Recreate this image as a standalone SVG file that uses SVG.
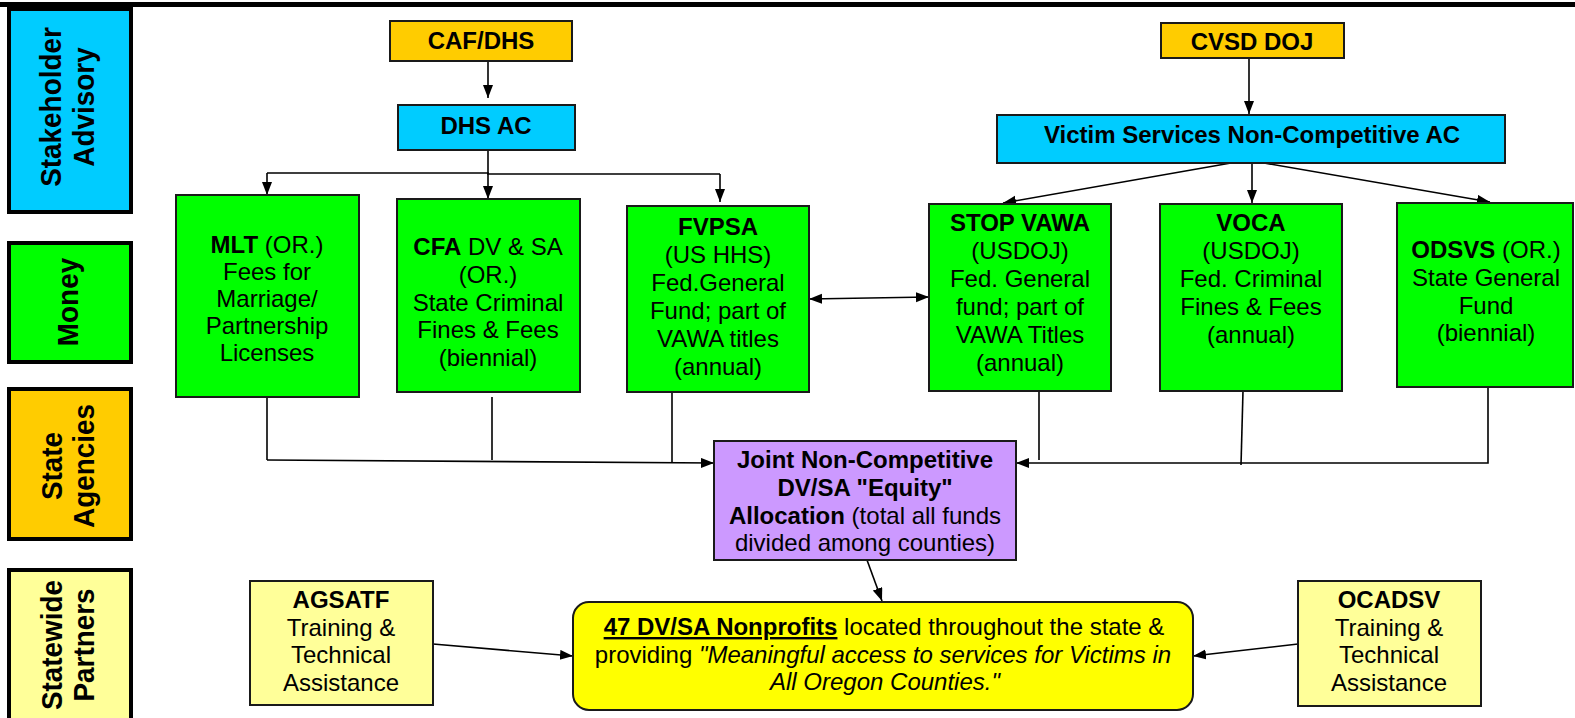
<svg xmlns="http://www.w3.org/2000/svg" width="1575" height="718" viewBox="0 0 1575 718">
<style>
text{font-family:"Liberation Sans",Arial,sans-serif;font-size:24px;fill:#000;text-anchor:middle}
.b{font-weight:bold}
.lane{stroke:#000;stroke-width:4}
.lbl{font-size:30px;font-weight:bold}
.node{stroke:#1a1a1a;stroke-width:2}
.c{fill:none;stroke:#000;stroke-width:1.6}
.a{marker-end:url(#ah)}
</style>
<defs>
<marker id="ah" markerUnits="userSpaceOnUse" markerWidth="14" markerHeight="12" refX="13" refY="5" orient="auto-start-reverse"><path d="M0,0 L13,5 L0,10 z" fill="#000"/></marker>
</defs>
<rect x="0" y="2" width="1575" height="5" fill="#000"/>

<g id="lane-stakeholder">
<rect class="lane" x="9" y="9" width="122" height="203" fill="#00CCFF"/>
<text class="lbl" transform="translate(61,107) rotate(-90) scale(0.93,1)">Stakeholder</text>
<text class="lbl" transform="translate(94,107) rotate(-90) scale(0.93,1)">Advisory</text>
</g>
<g id="lane-money">
<rect class="lane" x="9" y="243" width="122" height="119" fill="#00FF00"/>
<text class="lbl" transform="translate(78,302) rotate(-90) scale(0.93,1)">Money</text>
</g>
<g id="lane-state">
<rect class="lane" x="9" y="389" width="122" height="150" fill="#FFCC00"/>
<text class="lbl" transform="translate(62,466) rotate(-90) scale(0.93,1)">State</text>
<text class="lbl" transform="translate(94,466) rotate(-90) scale(0.93,1)">Agencies</text>
</g>
<g id="lane-partners">
<rect class="lane" x="9" y="570" width="122" height="155" fill="#FFFF99"/>
<text class="lbl" transform="translate(62,645) rotate(-90) scale(0.93,1)">Statewide</text>
<text class="lbl" transform="translate(94,645) rotate(-90) scale(0.93,1)">Partners</text>
</g>

<g id="connectors">
<line class="c a" x1="488" y1="61" x2="488" y2="98"/>
<line class="c" x1="488" y1="150" x2="488" y2="174" stroke-width="3"/>
<polyline class="c" points="267,173 488,173 488,174 720,174"/>
<line class="c a" x1="267" y1="173" x2="267" y2="195"/>
<line class="c a" x1="488" y1="174" x2="488" y2="199"/>
<line class="c a" x1="720" y1="174" x2="720" y2="202"/>
<line class="c a" x1="1249" y1="58" x2="1249" y2="114"/>
<line class="c a" x1="1231" y1="163" x2="1003" y2="203"/>
<line class="c a" x1="1252" y1="163" x2="1252" y2="203"/>
<line class="c a" x1="1264" y1="163" x2="1490" y2="202"/>
<line class="c a" x1="809" y1="299" x2="929" y2="297" marker-start="url(#ah)"/>
<line class="c" x1="267" y1="397" x2="267" y2="460"/>
<line class="c" x1="492" y1="397" x2="492" y2="460"/>
<line class="c" x1="672" y1="393" x2="672" y2="462"/>
<line class="c a" x1="267" y1="460" x2="714" y2="463"/>
<line class="c" x1="1039" y1="391" x2="1039" y2="460"/>
<line class="c" x1="1243" y1="391" x2="1241" y2="465"/>
<polyline class="c a" points="1488,387 1488,463 1016,463"/>
<line class="c a" x1="867" y1="560" x2="882" y2="601"/>
<line class="c a" x1="433" y1="644" x2="573" y2="656"/>
<line class="c a" x1="1298" y1="644" x2="1193" y2="656"/>
</g>

<g id="caf-dhs">
<rect class="node" x="390" y="21" width="182" height="40" fill="#FFCC00"/>
<text class="b" x="481" y="49">CAF/DHS</text>
</g>
<g id="dhs-ac">
<rect class="node" x="398" y="105" width="177" height="45" fill="#00CCFF"/>
<text class="b" x="486" y="134">DHS AC</text>
</g>
<g id="cvsd-doj">
<rect class="node" x="1161" y="23" width="183" height="35" fill="#FFCC00"/>
<text class="b" x="1252" y="50">CVSD DOJ</text>
</g>
<g id="vs-ac">
<rect class="node" x="997" y="115" width="508" height="48" fill="#00CCFF"/>
<text class="b" x="1252" y="143">Victim Services Non-Competitive AC</text>
</g>

<g id="mlt">
<rect class="node" x="176" y="195" width="183" height="202" fill="#00FF00"/>
<text x="267" y="253"><tspan class="b">MLT</tspan> (OR.)</text>
<text x="267" y="280">Fees for</text>
<text x="267" y="307">Marriage/</text>
<text x="267" y="334">Partnership</text>
<text x="267" y="361">Licenses</text>
</g>
<g id="cfa">
<rect class="node" x="397" y="199" width="183" height="193" fill="#00FF00"/>
<text x="488" y="255"><tspan class="b">CFA</tspan> DV &amp; SA</text>
<text x="488" y="283">(OR.)</text>
<text x="488" y="311">State Criminal</text>
<text x="488" y="338">Fines &amp; Fees</text>
<text x="488" y="366">(biennial)</text>
</g>
<g id="fvpsa">
<rect class="node" x="627" y="206" width="182" height="186" fill="#00FF00"/>
<text class="b" x="718" y="235">FVPSA</text>
<text x="718" y="263">(US HHS)</text>
<text x="718" y="291">Fed.General</text>
<text x="718" y="319">Fund; part of</text>
<text x="718" y="347">VAWA titles</text>
<text x="718" y="375">(annual)</text>
</g>
<g id="stop-vawa">
<rect class="node" x="929" y="204" width="182" height="187" fill="#00FF00"/>
<text class="b" x="1020" y="231">STOP VAWA</text>
<text x="1020" y="259">(USDOJ)</text>
<text x="1020" y="287">Fed. General</text>
<text x="1020" y="315">fund; part of</text>
<text x="1020" y="343">VAWA Titles</text>
<text x="1020" y="371">(annual)</text>
</g>
<g id="voca">
<rect class="node" x="1160" y="204" width="182" height="187" fill="#00FF00"/>
<text class="b" x="1251" y="231">VOCA</text>
<text x="1251" y="259">(USDOJ)</text>
<text x="1251" y="287">Fed. Criminal</text>
<text x="1251" y="315">Fines &amp; Fees</text>
<text x="1251" y="343">(annual)</text>
</g>
<g id="odsvs">
<rect class="node" x="1397" y="203" width="176" height="184" fill="#00FF00"/>
<text x="1486" y="258"><tspan class="b">ODSVS</tspan> (OR.)</text>
<text x="1486" y="286">State General</text>
<text x="1486" y="314">Fund</text>
<text x="1486" y="341">(biennial)</text>
</g>

<g id="joint">
<rect class="node" x="714" y="441" width="302" height="119" fill="#CC99FF"/>
<text class="b" x="865" y="468">Joint Non-Competitive</text>
<text class="b" x="865" y="496">DV/SA "Equity"</text>
<text x="865" y="524"><tspan class="b">Allocation</tspan> (total all funds</text>
<text x="865" y="551">divided among counties)</text>
</g>
<g id="nonprofits">
<rect class="node" x="573" y="602" width="620" height="108" rx="16" fill="#FFFF00"/>
<text x="884" y="635"><tspan class="b" text-decoration="underline">47 DV/SA Nonprofits</tspan> located throughout the state &amp;</text>
<text x="883" y="663">providing <tspan font-style="italic">"Meaningful access to services for Victims in</tspan></text>
<text x="885" y="690" font-style="italic">All Oregon Counties."</text>
</g>
<g id="agsatf">
<rect class="node" x="250" y="581" width="183" height="124" fill="#FFFF99"/>
<text class="b" x="341" y="608">AGSATF</text>
<text x="341" y="636">Training &amp;</text>
<text x="341" y="663">Technical</text>
<text x="341" y="691">Assistance</text>
</g>
<g id="ocadsv">
<rect class="node" x="1298" y="581" width="183" height="125" fill="#FFFF99"/>
<text class="b" x="1389" y="608">OCADSV</text>
<text x="1389" y="636">Training &amp;</text>
<text x="1389" y="663">Technical</text>
<text x="1389" y="691">Assistance</text>
</g>
</svg>
